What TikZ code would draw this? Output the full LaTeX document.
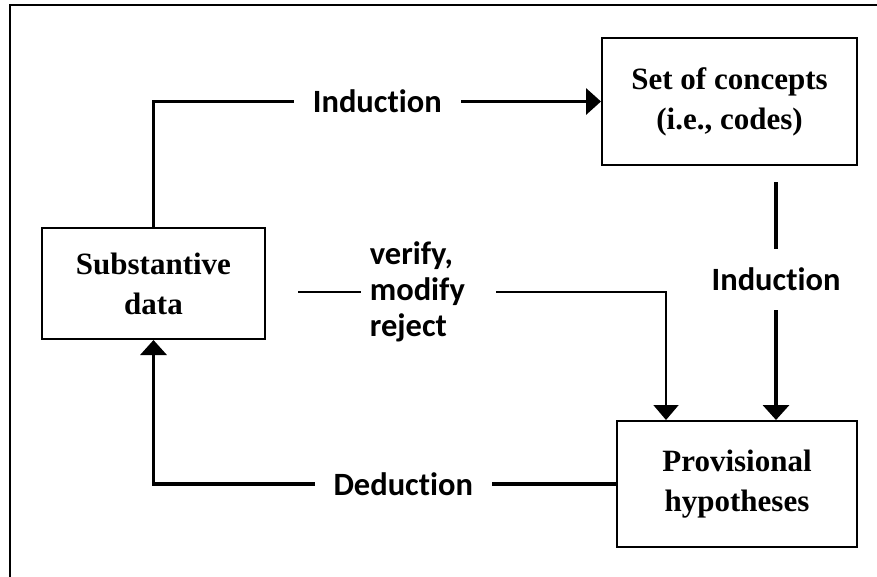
\documentclass[tikz,border=0pt]{standalone}
\usepackage{fontspec}
\setmainfont{Liberation Serif}
\newfontfamily\labelfont[Ligatures={NoCommon}]{Carlito}
\usetikzlibrary{arrows.meta}

\tikzset{
  box/.style={draw, line width=2pt, inner sep=0pt, align=center,
    font=\fontsize{31}{40}\selectfont\bfseries},
  flow/.style={line width=3.5pt, -{Triangle[width=26pt,length=15pt]}},
  thinflow/.style={line width=1.8pt, -{Triangle[width=25pt,length=15pt]}},
  lbl/.style={fill=white, inner xsep=19pt, inner ysep=2pt,
    font=\labelfont\bfseries\fontsize{32.5}{36}\selectfont},
}

\begin{document}
\begin{tikzpicture}[x=1pt,y=-1pt]
\useasboundingbox (0,0) rectangle (877,576);

% FRAME
\draw[line width=2.3pt] (10,5) rectangle (890,590);

% BOXES
\node[box, minimum width=223pt, minimum height=111pt] (subst) at (153.5,283.5) {Substantive\\data};
\node[box, minimum width=255pt, minimum height=127pt] (sets) at (729.5,101.5) {Set of concepts\\(i.e., codes)};
\node[box, minimum width=240pt, minimum height=126pt] (hyp) at (737,484) {Provisional\\hypotheses};

% ARROWS
% data to concepts
\draw[flow] (subst.north) |- node[lbl, pos=0.75] {Induction} (sets.west);
% concepts to hypotheses
\draw[flow, shorten <=16pt] ([xshift=46.5pt]sets.south) -- node[lbl, pos=0.447, inner ysep=19pt] {Induction} ([xshift=46.5pt]sets.south |- hyp.north);
% checking against the data
\coordinate (vstart) at (298,292);
\draw[thinflow] (vstart) -| node[lbl, pos=0.0842, anchor=west, align=left, inner xsep=9pt, text width=117pt] {verify,\\modify\\reject} ([xshift=-71pt]hyp.north);
% hypotheses back to data
\draw[flow] (hyp.west) -| node[lbl, pos=0.23] {Deduction} (subst.south);

\end{tikzpicture}
\end{document}
